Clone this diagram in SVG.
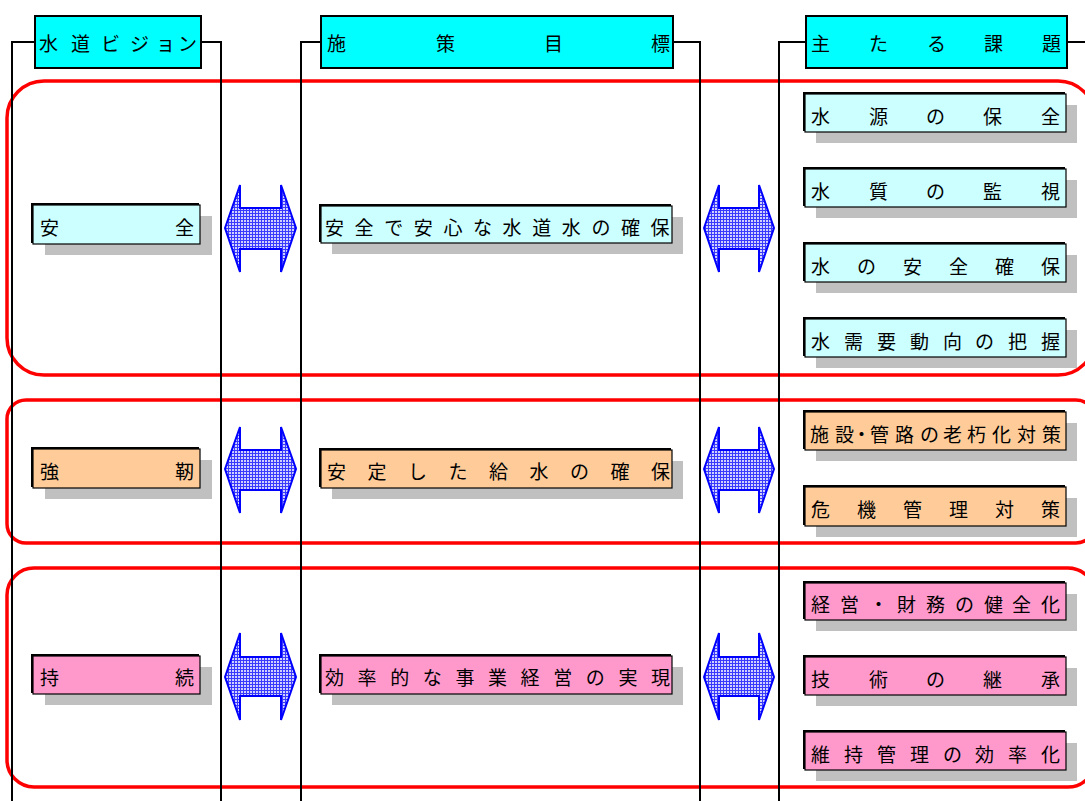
<svg xmlns="http://www.w3.org/2000/svg" width="1085" height="801" viewBox="0 0 1085 801">
<style>
  .frame{fill:none;stroke:#ff0000;stroke-width:3.5}
  .ln{fill:none;stroke:#000;stroke-width:2}
  .hdr{fill:#00ffff;stroke:#000;stroke-width:2}
  .sh{fill:#c0c0c0}
  .edge{fill:#000}
  .b1{fill:#ccffff;stroke:#000;stroke-width:1.2}
  .b2{fill:#ffcc99;stroke:#000;stroke-width:1.2}
  .b3{fill:#ff99cc;stroke:#000;stroke-width:1.2}
  .arr{fill:url(#grid);stroke:#0000ff;stroke-width:2;stroke-linejoin:miter}
  text{font-family:"Noto Sans CJK JP","Noto Sans",sans-serif;font-size:19px;fill:#000}
</style>
<defs>
  <pattern id="grid" width="3" height="3" patternUnits="userSpaceOnUse">
    <rect width="3" height="3" fill="#d0d0ff"/>
    <path d="M0 0.5H3M0.5 0V3" stroke="#3a3aff" stroke-width="1"/>
  </pattern>
</defs>

<g id="frames">
  <rect class="frame" x="7" y="81" width="1088" height="294" rx="37" ry="37"/>
  <rect class="frame" x="7" y="400" width="1088" height="143" rx="19" ry="19"/>
  <rect class="frame" x="7" y="568" width="1088" height="219" rx="27" ry="27"/>
</g>

<g id="connectors">
  <polyline class="ln" points="35,42 12,42 12,801"/>
  <polyline class="ln" points="200,42 221,42 221,801"/>
  <polyline class="ln" points="321,42 301,42 301,801"/>
  <polyline class="ln" points="673,42 700,42 700,801"/>
  <polyline class="ln" points="806,42 779,42 779,801"/>
  <line class="ln" x1="1066" y1="42" x2="1085" y2="42"/>
</g>

<g id="header-vision">
  <rect class="hdr" x="35" y="16" width="166" height="52"/>
  <text x="39 71 101 130 156 178" y="51">水道ビジョン</text>
</g>
<g id="header-goal">
  <rect class="hdr" x="321" y="16" width="352" height="52"/>
  <text x="327 436 544 651" y="51">施策目標</text>
</g>
<g id="header-issue">
  <rect class="hdr" x="806" y="16" width="261" height="52"/>
  <text x="811 869 927 984 1042" y="51">主たる課題</text>
</g>

<g id="arrows">
  <path class="arr" d="M225,228 L240,185 L240,208 L281,208 L281,185 L296,228 L281,272 L281,249 L240,249 L240,272 Z"/>
  <path class="arr" d="M704,228 L719,185 L719,208 L759,208 L759,185 L774,228 L759,272 L759,249 L719,249 L719,272 Z"/>
  <path class="arr" d="M225,469 L240,427 L240,450 L281,450 L281,427 L296,469 L281,513 L281,490 L240,490 L240,513 Z"/>
  <path class="arr" d="M704,469 L719,427 L719,450 L759,450 L759,427 L774,469 L759,513 L759,490 L719,490 L719,513 Z"/>
  <path class="arr" d="M225,677 L240,633 L240,657 L281,657 L281,633 L296,677 L281,720 L281,696 L240,696 L240,720 Z"/>
  <path class="arr" d="M704,677 L719,633 L719,657 L759,657 L759,633 L774,677 L759,720 L759,696 L719,696 L719,720 Z"/>
</g>

<!-- left column -->
<g id="v-anzen">
  <rect class="sh" x="45" y="216" width="167" height="39"/>
  <rect class="edge" x="31" y="203" width="168" height="40"/>
  <rect class="b1" x="33" y="205" width="167" height="39"/>
  <text x="40 175" y="235">安全</text>
</g>
<g id="v-kyoujin">
  <rect class="sh" x="45" y="460" width="167" height="39"/>
  <rect class="edge" x="31" y="447" width="168" height="40"/>
  <rect class="b2" x="33" y="449" width="167" height="39"/>
  <text x="40 175" y="479">強靭</text>
</g>
<g id="v-jizoku">
  <rect class="sh" x="45" y="667" width="167" height="38"/>
  <rect class="edge" x="31" y="654" width="168" height="39"/>
  <rect class="b3" x="33" y="656" width="167" height="38"/>
  <text x="40 175" y="685">持続</text>
</g>

<!-- middle column -->
<g id="g-anzen">
  <rect class="sh" x="332" y="217" width="351" height="37"/>
  <rect class="edge" x="319" y="204" width="352" height="38"/>
  <rect class="b1" x="321" y="206" width="351" height="37"/>
  <text x="325 354.6 384.2 413.8 443.4 473 502.6 532.2 561.8 591.4 621 650.6" y="235">安全で安心な水道水の確保</text>
</g>
<g id="g-antei">
  <rect class="sh" x="332" y="461" width="351" height="38"/>
  <rect class="edge" x="319" y="448" width="352" height="39"/>
  <rect class="b2" x="321" y="450" width="351" height="38"/>
  <text x="327 367.5 408 448.5 489 529.5 570 610.5 651" y="479">安定した給水の確保</text>
</g>
<g id="g-kouritsu">
  <rect class="sh" x="332" y="667" width="351" height="38"/>
  <rect class="edge" x="319" y="654" width="352" height="39"/>
  <rect class="b3" x="321" y="656" width="351" height="38"/>
  <text x="325 357.6 390.2 422.8 455.4 488 520.6 553.2 585.8 618.4 651" y="685">効率的な事業経営の実現</text>
</g>

<!-- right column -->
<g id="i-suigen">
  <rect class="sh" x="816" y="105" width="261" height="38"/>
  <rect class="edge" x="803" y="92" width="262" height="39"/>
  <rect class="b1" x="805" y="94" width="261" height="38"/>
  <text x="811 869 926 983 1041" y="124">水源の保全</text>
</g>
<g id="i-suishitsu">
  <rect class="sh" x="816" y="180" width="261" height="38"/>
  <rect class="edge" x="803" y="167" width="262" height="39"/>
  <rect class="b1" x="805" y="169" width="261" height="38"/>
  <text x="811 869 926 983 1041" y="199">水質の監視</text>
</g>
<g id="i-anzenkakuho">
  <rect class="sh" x="816" y="255" width="261" height="38"/>
  <rect class="edge" x="803" y="242" width="262" height="39"/>
  <rect class="b1" x="805" y="244" width="261" height="38"/>
  <text x="811 857 903 949 995 1041" y="274">水の安全確保</text>
</g>
<g id="i-juyou">
  <rect class="sh" x="816" y="330" width="261" height="38"/>
  <rect class="edge" x="803" y="317" width="262" height="39"/>
  <rect class="b1" x="805" y="319" width="261" height="38"/>
  <text x="811 844 877 910 943 975 1008 1041" y="349">水需要動向の把握</text>
</g>
<g id="i-roukyuu">
  <rect class="sh" x="816" y="423" width="261" height="38"/>
  <rect class="edge" x="803" y="410" width="262" height="39"/>
  <rect class="b2" x="805" y="412" width="261" height="38"/>
  <text x="810 835 852 870 895 920 943 967 992 1017 1042" y="442">施設・管路の老朽化対策</text>
</g>
<g id="i-kiki">
  <rect class="sh" x="816" y="498" width="261" height="39"/>
  <rect class="edge" x="803" y="485" width="262" height="40"/>
  <rect class="b2" x="805" y="487" width="261" height="39"/>
  <text x="811 857 903 949 995 1041" y="517">危機管理対策</text>
</g>
<g id="i-keiei">
  <rect class="sh" x="816" y="594" width="261" height="37"/>
  <rect class="edge" x="803" y="581" width="262" height="38"/>
  <rect class="b3" x="805" y="583" width="261" height="37"/>
  <text x="811 840 869 897 926 955 984 1012 1041" y="612">経営・財務の健全化</text>
</g>
<g id="i-gijutsu">
  <rect class="sh" x="816" y="668" width="261" height="38"/>
  <rect class="edge" x="803" y="655" width="262" height="39"/>
  <rect class="b3" x="805" y="657" width="261" height="38"/>
  <text x="811 869 926 983 1041" y="687">技術の継承</text>
</g>
<g id="i-iji">
  <rect class="sh" x="816" y="743" width="261" height="38"/>
  <rect class="edge" x="803" y="730" width="262" height="39"/>
  <rect class="b3" x="805" y="732" width="261" height="38"/>
  <text x="811 844 877 910 943 975 1008 1041" y="762">維持管理の効率化</text>
</g>
</svg>
